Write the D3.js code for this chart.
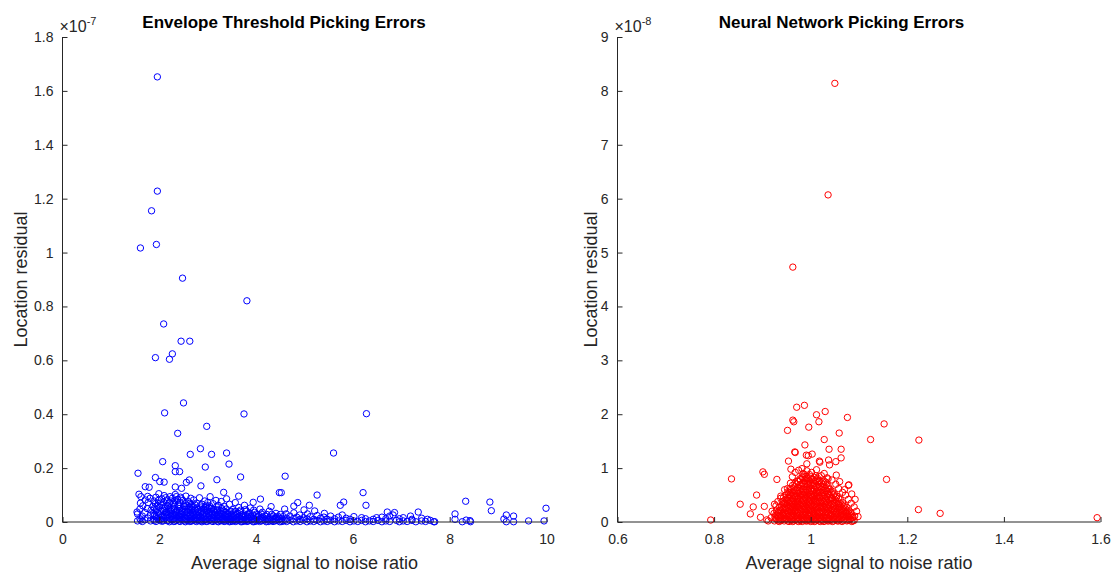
<!DOCTYPE html>
<html>
<head>
<meta charset="utf-8">
<script src="https://cdn.jsdelivr.net/npm/d3@7"></script>
<style>
html,body{margin:0;padding:0;background:#fff;}
svg{display:block;font-family:"Liberation Sans",Arial,Helvetica,sans-serif;}
</style>
</head>
<body>
<svg id="chart" width="1117" height="572"></svg>
<script>
// ---------------- DATA ----------------
const titles = ["Envelope Threshold Picking Errors", "Neural Network Picking Errors"];
const xLabel = "Average signal to noise ratio";
const yLabel = "Location residual";
const exponents = ["-7", "-8"];
const envXTicks = [0, 2, 4, 6, 8, 10];
const envYTicks = [0, 0.2, 0.4, 0.6, 0.8, 1, 1.2, 1.4, 1.6, 1.8];
const nnXTicks = [0.6, 0.8, 1, 1.2, 1.4, 1.6];
const nnYTicks = [0, 1, 2, 3, 4, 5, 6, 7, 8, 9];
const envXDomain = [0, 10];
const envYDomain = [0, 1.8];
const nnXDomain = [0.6, 1.6];
const nnYDomain = [0, 9];

// Envelope threshold: [SNR, residual x1e-7]
const envOutliers = [
[1.96,1.652],[1.96,1.228],[1.84,1.155],[1.94,1.03],[1.61,1.017],[2.48,0.905],[3.81,0.821],[2.09,0.735],
[2.45,0.671],[2.63,0.671],[1.92,0.61],[2.27,0.624],[2.21,0.604],[2.50,0.442],[3.75,0.401],[2.11,0.405],
[6.28,0.402],[2.98,0.355],[2.38,0.329],[5.60,0.256],[2.07,0.224],[1.56,0.181],[2.64,0.251],[2.85,0.272],
[3.08,0.251],[3.39,0.256],[3.44,0.215],[2.95,0.204],[2.33,0.209],[2.33,0.187],[2.42,0.187],[3.19,0.157],
[3.68,0.167],[4.60,0.170],[4.52,0.109],[5.26,0.100],[6.21,0.109],[5.81,0.074],[6.27,0.062],[5.74,0.062],
[8.33,0.077],[8.83,0.074],[8.86,0.042],[9.99,0.051],[8.11,0.030],[9.17,0.026],[9.32,0.022],[9.63,0.004],
[9.95,0.004],[8.42,0.005],[8.43,0.001],[8.34,0.007],[8.26,0.001],[8.11,0.010],[9.12,0.011],[9.17,0.001],
[9.32,0.001],[7.54,0.010],[7.69,0.001],[7.35,0.037],[7.19,0.022],[6.71,0.037],[6.86,0.035],[6.83,0.026],
[6.49,0.016],[4.09,0.085],[4.31,0.057],[4.59,0.048],[4.86,0.072],[4.78,0.059],[5.10,0.062],[4.99,0.045],
[5.21,0.041],[3.94,0.073],[3.64,0.096],[3.33,0.110],[2.86,0.134],[1.92,0.165],[2.10,0.148],[2.01,0.150],
[1.71,0.131],[1.79,0.129],[1.58,0.103],[1.62,0.094],[1.54,0.037],[1.62,0.007],[2.33,0.130],[2.46,0.125],
[2.62,0.156],[2.56,0.147],[4.48,0.109]
];
const envCluster = [
[1.55,0.004],[1.55,0.030],[1.60,0.012],[1.60,0.048],[1.61,0.070],[1.65,0.002],[1.65,0.022],[1.66,0.060],
[1.70,0.008],[1.70,0.035],[1.71,0.082],[1.76,0.015],[1.75,0.050],[1.77,0.072],[1.76,0.095],
[1.82,0.004],[1.82,0.026],[1.83,0.044],[1.81,0.088],[1.88,0.010],[1.88,0.032],[1.87,0.058],[1.89,0.078],
[1.93,0.002],[1.93,0.020],[1.94,0.046],[1.92,0.068],[1.93,0.092],[1.99,0.008],[1.99,0.030],[2.00,0.054],
[1.98,0.080],[1.99,0.105],[2.05,0.003],[2.05,0.018],[2.04,0.040],[2.06,0.062],[2.05,0.086],
[2.10,0.012],[2.10,0.028],[2.11,0.050],[2.09,0.074],[2.10,0.098],[2.16,0.005],[2.16,0.022],[2.15,0.038],
[2.17,0.060],[2.16,0.082],[2.21,0.001],[2.21,0.015],[2.22,0.034],[2.20,0.052],[2.21,0.070],[2.22,0.094],
[2.27,0.008],[2.27,0.026],[2.26,0.046],[2.28,0.066],[2.27,0.088],[2.32,0.003],[2.32,0.018],[2.33,0.036],
[2.31,0.058],[2.32,0.078],[2.33,0.102],[2.38,0.010],[2.38,0.024],[2.37,0.044],[2.39,0.064],[2.38,0.084],
[2.43,0.002],[2.43,0.016],[2.44,0.032],[2.42,0.050],[2.43,0.072],[2.44,0.092],[2.49,0.007],[2.49,0.022],
[2.48,0.040],[2.50,0.060],[2.49,0.080],[2.54,0.001],[2.54,0.013],[2.55,0.030],[2.53,0.048],[2.54,0.068],
[2.55,0.096],[2.60,0.006],[2.60,0.020],[2.59,0.036],[2.61,0.056],[2.60,0.076],[2.66,0.003],[2.66,0.015],
[2.65,0.028],[2.67,0.046],[2.66,0.064],[2.65,0.088],[2.71,0.009],[2.71,0.024],[2.72,0.040],[2.70,0.058],
[2.71,0.082],[2.77,0.002],[2.77,0.017],[2.76,0.034],[2.78,0.052],[2.77,0.070],[2.83,0.006],[2.83,0.020],
[2.82,0.038],[2.84,0.060],[2.83,0.090],[2.88,0.001],[2.88,0.012],[2.89,0.028],[2.87,0.044],[2.88,0.066],
[2.94,0.008],[2.94,0.022],[2.93,0.036],[2.95,0.054],[2.94,0.078],[3.00,0.003],[3.00,0.016],[3.01,0.030],
[2.99,0.048],[3.00,0.072],[3.05,0.010],[3.05,0.024],[3.06,0.040],[3.04,0.060],[3.05,0.094],[3.11,0.002],
[3.11,0.014],[3.10,0.028],[3.12,0.046],[3.11,0.068],[3.17,0.007],[3.17,0.020],[3.16,0.034],[3.18,0.056],
[3.17,0.080],[3.22,0.001],[3.22,0.012],[3.23,0.026],[3.21,0.042],[3.22,0.062],[3.28,0.005],[3.28,0.018],
[3.27,0.032],[3.29,0.050],[3.28,0.076],[3.34,0.002],[3.34,0.010],[3.35,0.024],[3.33,0.040],[3.34,0.058],
[3.39,0.006],[3.39,0.016],[3.40,0.030],[3.38,0.048],[3.39,0.086],[3.45,0.001],[3.45,0.012],[3.44,0.022],
[3.46,0.038],[3.45,0.066],[3.51,0.004],[3.51,0.016],[3.50,0.028],[3.52,0.046],[3.57,0.002],[3.57,0.010],
[3.56,0.024],[3.58,0.040],[3.57,0.072],[3.63,0.006],[3.63,0.018],[3.62,0.032],[3.64,0.054],[3.69,0.001],
[3.69,0.012],[3.70,0.026],[3.68,0.044],[3.75,0.004],[3.75,0.016],[3.74,0.030],[3.76,0.062],[3.81,0.002],
[3.81,0.010],[3.82,0.022],[3.80,0.040],[3.87,0.006],[3.87,0.018],[3.86,0.034],[3.88,0.052],[3.94,0.001],
[3.94,0.012],[3.93,0.026],[3.95,0.044],[4.00,0.004],[4.00,0.016],[4.01,0.030],[4.07,0.002],[4.07,0.010],
[4.06,0.024],[4.08,0.048],[4.14,0.006],[4.14,0.018],[4.13,0.036],[4.21,0.001],[4.21,0.012],[4.22,0.028],
[4.28,0.004],[4.28,0.016],[4.27,0.040],[4.35,0.002],[4.35,0.010],[4.36,0.022],[4.42,0.006],[4.42,0.018],
[4.41,0.032],[4.49,0.001],[4.49,0.012],[4.50,0.028],
[4.56,0.004],[4.56,0.020],[4.63,0.002],[4.63,0.014],[4.62,0.030],[4.70,0.006],[4.70,0.022],[4.77,0.001],
[4.77,0.012],[4.78,0.034],[4.84,0.004],[4.84,0.018],[4.91,0.002],[4.91,0.010],[4.90,0.026],[4.98,0.006],
[4.98,0.016],[5.05,0.001],[5.05,0.012],[5.06,0.030],[5.12,0.004],[5.12,0.020],[5.19,0.002],[5.19,0.010],
[5.26,0.006],[5.26,0.024],[5.33,0.001],[5.33,0.014],[5.40,0.004],[5.40,0.018],[5.41,0.032],[5.47,0.002],
[5.47,0.010],[5.54,0.006],[5.54,0.022],[5.62,0.001],[5.62,0.012],[5.70,0.004],[5.70,0.018],[5.78,0.002],
[5.78,0.026],[5.86,0.006],[5.86,0.014],[5.94,0.001],[5.94,0.010],[6.02,0.004],[6.02,0.020],[6.10,0.002],
[6.18,0.006],[6.18,0.016],[6.26,0.001],[6.26,0.012],[6.34,0.004],[6.42,0.002],[6.42,0.010],[6.52,0.006],
[6.60,0.001],[6.60,0.018],[6.68,0.004],[6.68,0.012],[6.76,0.002],[6.76,0.022],[6.90,0.006],[6.96,0.001],
[6.96,0.012],[7.04,0.004],[7.04,0.016],[7.12,0.002],[7.22,0.006],[7.22,0.010],[7.30,0.001],[7.42,0.004],
[7.42,0.014],[7.50,0.002],[7.60,0.006],[7.67,0.001]
];
const envClusterCore = [
[1.90,0.006],[1.90,0.024],[1.90,0.050],[1.96,0.014],[1.96,0.036],[1.96,0.062],[2.02,0.008],[2.02,0.026],
[2.02,0.070],[2.08,0.004],[2.08,0.022],[2.08,0.044],[2.13,0.016],[2.13,0.034],[2.13,0.058],[2.13,0.090],
[2.19,0.006],[2.19,0.028],[2.19,0.046],[2.24,0.010],[2.24,0.020],[2.24,0.040],[2.24,0.078],[2.30,0.002],
[2.30,0.012],[2.30,0.030],[2.30,0.050],[2.30,0.070],[2.35,0.006],[2.35,0.026],[2.35,0.040],[2.35,0.094],
[2.41,0.004],[2.41,0.020],[2.41,0.036],[2.41,0.058],[2.46,0.010],[2.46,0.026],[2.46,0.044],[2.46,0.086],
[2.52,0.004],[2.52,0.018],[2.52,0.036],[2.52,0.056],[2.57,0.008],[2.57,0.024],[2.57,0.040],[2.57,0.062],
[2.63,0.002],[2.63,0.012],[2.63,0.030],[2.63,0.046],[2.63,0.070],[2.68,0.006],[2.68,0.020],[2.68,0.036],
[2.68,0.054],[2.74,0.004],[2.74,0.012],[2.74,0.028],[2.74,0.044],[2.74,0.064],[2.80,0.008],[2.80,0.026],
[2.80,0.046],[2.86,0.004],[2.86,0.018],[2.86,0.034],[2.86,0.052],[2.91,0.006],[2.91,0.016],[2.91,0.030],
[2.91,0.048],[2.97,0.002],[2.97,0.010],[2.97,0.026],[2.97,0.042],[2.97,0.062],[3.03,0.006],[3.03,0.020],
[3.03,0.036],[3.03,0.054],[3.08,0.004],[3.08,0.016],[3.08,0.032],[3.08,0.050],[3.14,0.008],[3.14,0.022],
[3.14,0.038],[3.20,0.003],[3.20,0.014],[3.20,0.028],[3.20,0.046],[3.25,0.006],[3.25,0.020],[3.25,0.034],
[3.31,0.008],[3.31,0.014],[3.31,0.028],[3.31,0.044],[3.37,0.004],[3.37,0.020],[3.37,0.036],[3.42,0.007],
[3.42,0.016],[3.42,0.030],[3.48,0.002],[3.48,0.010],[3.48,0.022],[3.48,0.040],[3.54,0.006],[3.54,0.020],
[3.54,0.034],[3.60,0.004],[3.60,0.014],[3.60,0.028],[3.66,0.008],[3.66,0.022],[3.66,0.038],[3.72,0.002],
[3.72,0.010],[3.72,0.020],[3.78,0.006],[3.78,0.024],[3.78,0.046],[3.84,0.004],[3.84,0.014],[3.84,0.028],
[3.90,0.008],[3.90,0.020],[3.97,0.002],[3.97,0.010],[3.97,0.036],[4.04,0.006],[4.04,0.020],[4.11,0.004],
[4.11,0.014],[4.11,0.030],[4.18,0.008],[4.18,0.022],[4.25,0.002],[4.25,0.010],[4.32,0.006],[4.32,0.028],
[4.39,0.004],[4.39,0.014],[4.46,0.008],[4.46,0.020],[4.53,0.002],[4.53,0.012],[4.60,0.006]
];

// Neural network: [SNR, residual x1e-8]
const nnOutliers = [
[1.050,8.14],[1.036,6.07],[0.963,4.73],[0.987,2.165],[0.971,2.13],[1.030,2.05],[1.012,1.99],[1.076,1.94],
[0.963,1.89],[0.965,1.86],[1.017,1.86],[1.152,1.82],[0.996,1.76],[0.952,1.70],[1.059,1.65],[1.028,1.53],
[1.124,1.53],[1.224,1.52],[0.988,1.43],[1.038,1.35],[1.063,1.35],[0.967,1.30],[0.968,1.29],[1.003,1.26],
[0.991,1.24],[0.995,1.23],[1.063,1.19],[0.954,1.13],[1.018,1.13],[1.019,1.11],[1.037,1.15],[1.052,1.12],
[1.039,1.06],[0.992,1.08],[0.982,0.99],[0.959,0.98],[0.836,0.80],[0.901,0.93],[0.904,0.885],[0.930,0.79],
[1.157,0.79],[1.053,0.87],[1.034,0.82],[1.079,0.69],[0.888,0.50],[0.854,0.33],[0.881,0.28],[0.875,0.15],
[0.904,0.29],[0.896,0.087],[0.793,0.037],[1.223,0.23],[1.268,0.16],[1.593,0.08],[0.909,0.04],[0.925,0.33],
[0.938,0.44],
[0.952,0.62],[0.958,0.72],[0.962,0.84],[0.968,0.92],[0.975,0.96],[0.984,0.90],[0.992,0.95],[1.002,0.92],
[1.012,0.97],[1.022,0.86],[1.028,0.90],[1.036,0.80],[1.044,0.78],[1.052,0.70],[1.058,0.62],[1.066,0.55],
[1.072,0.50],[1.078,0.42],[1.084,0.35],[1.090,0.28],[1.095,0.20],[1.098,0.10],[1.078,0.68],[1.085,0.52],
[1.092,0.42],[0.938,0.48],[0.932,0.38],[0.928,0.30],[0.920,0.20],[0.918,0.08],[0.912,0.02],[0.946,0.60],
[1.060,0.75],[1.070,0.60]
];
const nnCluster = [
[0.925,0.02],[0.926,0.09],[0.924,0.16],[0.930,0.05],[0.931,0.13],[0.929,0.22],
[0.935,0.01],[0.936,0.08],[0.934,0.17],[0.935,0.27],
[0.940,0.04],[0.941,0.12],[0.939,0.21],[0.940,0.30],[0.941,0.38],
[0.945,0.02],[0.946,0.09],[0.944,0.18],[0.945,0.26],[0.946,0.35],[0.944,0.46],
[0.950,0.05],[0.951,0.14],[0.949,0.22],[0.950,0.31],[0.951,0.40],[0.949,0.50],
[0.955,0.01],[0.956,0.08],[0.954,0.17],[0.955,0.26],[0.956,0.35],[0.954,0.44],[0.955,0.55],
[0.960,0.04],[0.961,0.12],[0.959,0.20],[0.960,0.29],[0.961,0.38],[0.959,0.48],[0.960,0.60],
[0.965,0.02],[0.966,0.09],[0.964,0.16],[0.965,0.25],[0.966,0.33],[0.964,0.42],[0.965,0.52],[0.966,0.65],
[0.970,0.05],[0.971,0.13],[0.969,0.21],[0.970,0.30],[0.971,0.39],[0.969,0.47],[0.970,0.57],[0.971,0.70],
[0.975,0.01],[0.976,0.08],[0.974,0.17],[0.975,0.26],[0.976,0.34],[0.974,0.44],[0.975,0.53],[0.976,0.63],[0.974,0.75],
[0.980,0.03],[0.981,0.11],[0.979,0.19],[0.980,0.28],[0.981,0.37],[0.979,0.46],[0.980,0.56],[0.981,0.66],[0.979,0.78],
[0.985,0.06],[0.986,0.14],[0.984,0.23],[0.985,0.32],[0.986,0.41],[0.984,0.50],[0.985,0.60],[0.986,0.70],[0.984,0.82],
[0.990,0.02],[0.991,0.09],[0.989,0.18],[0.990,0.27],[0.991,0.36],[0.989,0.45],[0.990,0.55],[0.991,0.65],[0.989,0.76],[0.990,0.85],
[0.995,0.05],[0.996,0.12],[0.994,0.21],[0.995,0.30],[0.996,0.39],[0.994,0.48],[0.995,0.58],[0.996,0.68],[0.994,0.80],
[1.000,0.01],[1.001,0.08],[0.999,0.16],[1.000,0.25],[1.001,0.34],[0.999,0.43],[1.000,0.52],[1.001,0.62],[0.999,0.72],[1.000,0.84],
[1.005,0.04],[1.006,0.11],[1.004,0.20],[1.005,0.29],[1.006,0.38],[1.004,0.47],[1.005,0.57],[1.006,0.67],[1.004,0.79],
[1.010,0.02],[1.011,0.09],[1.009,0.17],[1.010,0.26],[1.011,0.35],[1.009,0.44],[1.010,0.54],[1.011,0.64],[1.009,0.76],[1.010,0.86],
[1.015,0.05],[1.016,0.13],[1.014,0.22],[1.015,0.31],[1.016,0.40],[1.014,0.49],[1.015,0.59],[1.016,0.70],[1.014,0.81],
[1.020,0.01],[1.021,0.08],[1.019,0.18],[1.020,0.27],[1.021,0.36],[1.019,0.45],[1.020,0.55],[1.021,0.66],[1.019,0.77],
[1.025,0.03],[1.026,0.11],[1.024,0.20],[1.025,0.29],[1.026,0.38],[1.024,0.48],[1.025,0.58],[1.026,0.70],
[1.030,0.06],[1.031,0.14],[1.029,0.23],[1.030,0.32],[1.031,0.41],[1.029,0.51],[1.030,0.62],[1.031,0.74],
[1.035,0.02],[1.036,0.09],[1.034,0.18],[1.035,0.27],[1.036,0.36],[1.034,0.46],[1.035,0.56],[1.036,0.67],
[1.040,0.04],[1.041,0.12],[1.039,0.21],[1.040,0.30],[1.041,0.40],[1.039,0.50],[1.040,0.61],
[1.045,0.01],[1.046,0.08],[1.044,0.17],[1.045,0.26],[1.046,0.35],[1.044,0.45],[1.045,0.57],
[1.050,0.05],[1.051,0.13],[1.049,0.22],[1.050,0.31],[1.051,0.41],[1.049,0.52],
[1.055,0.02],[1.056,0.10],[1.054,0.19],[1.055,0.28],[1.056,0.38],[1.054,0.48],
[1.060,0.04],[1.061,0.12],[1.059,0.21],[1.060,0.30],[1.061,0.42],
[1.065,0.01],[1.066,0.09],[1.064,0.17],[1.065,0.26],[1.066,0.36],
[1.070,0.05],[1.071,0.13],[1.069,0.22],[1.070,0.31],
[1.075,0.02],[1.076,0.10],[1.074,0.18],[1.075,0.27],
[1.080,0.04],[1.081,0.12],[1.079,0.21],
[1.085,0.01],[1.086,0.08],[1.084,0.16],
[1.090,0.03],[1.091,0.11]
];
const nnClusterCore = [
[0.9275,0.06],[0.9275,0.13],[0.9325,0.02],[0.9325,0.10],[0.9325,0.18],[0.9375,0.03],[0.9375,0.12],[0.9375,0.22],
[0.9425,0.06],[0.9425,0.16],[0.9425,0.25],[0.9425,0.34],
[0.9475,0.06],[0.9475,0.15],[0.9475,0.24],[0.9475,0.33],[0.9475,0.42],
[0.9525,0.02],[0.9525,0.10],[0.9525,0.19],[0.9525,0.27],[0.9525,0.36],[0.9525,0.45],[0.9525,0.56],
[0.9575,0.05],[0.9575,0.13],[0.9575,0.22],[0.9575,0.31],[0.9575,0.40],[0.9575,0.50],[0.9575,0.62],
[0.9625,0.01],[0.9625,0.08],[0.9625,0.17],[0.9625,0.26],[0.9625,0.34],[0.9625,0.44],[0.9625,0.55],[0.9625,0.68],
[0.9675,0.04],[0.9675,0.12],[0.9675,0.20],[0.9675,0.29],[0.9675,0.38],[0.9675,0.48],[0.9675,0.59],[0.9675,0.72],
[0.9725,0.02],[0.9725,0.09],[0.9725,0.18],[0.9725,0.27],[0.9725,0.35],[0.9725,0.43],[0.9725,0.53],[0.9725,0.64],[0.9725,0.76],
[0.9775,0.05],[0.9775,0.13],[0.9775,0.22],[0.9775,0.30],[0.9775,0.39],[0.9775,0.49],[0.9775,0.58],[0.9775,0.69],[0.9775,0.80],
[0.9825,0.01],[0.9825,0.07],[0.9825,0.15],[0.9825,0.24],[0.9825,0.33],[0.9825,0.42],[0.9825,0.51],[0.9825,0.61],[0.9825,0.72],[0.9825,0.84],
[0.9875,0.04],[0.9875,0.11],[0.9875,0.20],[0.9875,0.29],[0.9875,0.37],[0.9875,0.46],[0.9875,0.55],[0.9875,0.66],[0.9875,0.78],[0.9875,0.88],
[0.9925,0.02],[0.9925,0.07],[0.9925,0.14],[0.9925,0.23],[0.9925,0.32],[0.9925,0.41],[0.9925,0.50],[0.9925,0.60],[0.9925,0.71],[0.9925,0.82],
[0.9975,0.03],[0.9975,0.10],[0.9975,0.18],[0.9975,0.28],[0.9975,0.37],[0.9975,0.46],[0.9975,0.55],[0.9975,0.65],[0.9975,0.76],[0.9975,0.88],
[1.0025,0.05],[1.0025,0.13],[1.0025,0.22],[1.0025,0.30],[1.0025,0.39],[1.0025,0.48],[1.0025,0.58],[1.0025,0.68],[1.0025,0.80],
[1.0075,0.01],[1.0075,0.07],[1.0075,0.15],[1.0075,0.24],[1.0075,0.33],[1.0075,0.42],[1.0075,0.51],[1.0075,0.61],[1.0075,0.72],[1.0075,0.83],
[1.0125,0.04],[1.0125,0.11],[1.0125,0.20],[1.0125,0.29],[1.0125,0.38],[1.0125,0.47],[1.0125,0.57],[1.0125,0.67],[1.0125,0.78],
[1.0175,0.02],[1.0175,0.09],[1.0175,0.17],[1.0175,0.26],[1.0175,0.35],[1.0175,0.44],[1.0175,0.54],[1.0175,0.64],[1.0175,0.75],[1.0175,0.84],
[1.0225,0.05],[1.0225,0.13],[1.0225,0.22],[1.0225,0.31],[1.0225,0.40],[1.0225,0.50],[1.0225,0.61],[1.0225,0.72],
[1.0275,0.01],[1.0275,0.08],[1.0275,0.17],[1.0275,0.26],[1.0275,0.35],[1.0275,0.44],[1.0275,0.54],[1.0275,0.65],[1.0275,0.76],
[1.0325,0.04],[1.0325,0.11],[1.0325,0.20],[1.0325,0.29],[1.0325,0.38],[1.0325,0.47],[1.0325,0.58],[1.0325,0.69],
[1.0375,0.02],[1.0375,0.07],[1.0375,0.15],[1.0375,0.24],[1.0375,0.33],[1.0375,0.42],[1.0375,0.52],[1.0375,0.62],
[1.0425,0.05],[1.0425,0.14],[1.0425,0.23],[1.0425,0.33],[1.0425,0.44],[1.0425,0.55],
[1.0475,0.02],[1.0475,0.10],[1.0475,0.19],[1.0475,0.29],[1.0475,0.39],[1.0475,0.50],
[1.0525,0.06],[1.0525,0.15],[1.0525,0.25],[1.0525,0.35],[1.0525,0.45],
[1.0575,0.02],[1.0575,0.08],[1.0575,0.17],[1.0575,0.26],[1.0575,0.34],[1.0575,0.44],
[1.0625,0.06],[1.0625,0.15],[1.0625,0.24],[1.0625,0.34],
[1.0675,0.03],[1.0675,0.11],[1.0675,0.20],[1.0675,0.29],
[1.0725,0.07],[1.0725,0.16],[1.0725,0.24],
[1.0775,0.03],[1.0775,0.11],[1.0775,0.19],
[1.0825,0.06],[1.0825,0.14],[1.0875,0.02],[1.0875,0.09]
];

// ---------------- DRAWING ----------------
const svg = d3.select("#chart");
const axisColor = "#262626";
const fontStack = '"Liberation Sans",Arial,Helvetica,sans-serif';

function panel(cfg) {
  const x = d3.scaleLinear().domain(cfg.xDomain).range([cfg.left, cfg.right]);
  const y = d3.scaleLinear().domain(cfg.yDomain).range([cfg.bottom, cfg.top]);
  const g = svg.append("g");

  g.append("g").selectAll("circle")
    .data(cfg.points)
    .join("circle")
    .attr("cx", d => x(d[0]))
    .attr("cy", d => y(d[1]))
    .attr("r", 3.2)
    .attr("fill", "none")
    .attr("stroke", cfg.color)
    .attr("stroke-width", 1);

  const xa = g.append("g").attr("transform", `translate(0,${cfg.bottom})`)
    .call(d3.axisBottom(x).tickValues(cfg.xTicks).tickSize(-5).tickPadding(12)
      .tickFormat(d3.format("~g")));
  xa.select(".domain").attr("stroke", axisColor).attr("d", `M${cfg.left},0H${cfg.right}`);
  xa.selectAll(".tick line").attr("stroke", axisColor);
  xa.selectAll(".tick text").attr("fill", axisColor).style("font-size", "14px")
    .style("font-family", fontStack);

  const ya = g.append("g").attr("transform", `translate(${cfg.axisX},0)`)
    .call(d3.axisLeft(y).tickValues(cfg.yTicks).tickSize(-5).tickPadding(9)
      .tickFormat(d3.format("~g")));
  ya.select(".domain").attr("stroke", axisColor).attr("d", `M0,${cfg.top}V${cfg.bottom}`);
  ya.selectAll(".tick line").attr("stroke", axisColor);
  ya.selectAll(".tick text").attr("fill", axisColor).style("font-size", "14px")
    .style("font-family", fontStack);

  const ex = g.append("text")
    .attr("x", cfg.left - 3).attr("y", cfg.top - 5)
    .attr("fill", axisColor).style("font-size", "16px").style("font-family", fontStack);
  ex.append("tspan").text("\u00d710");
  ex.append("tspan").attr("dy", -7).style("font-size", "11px").text(cfg.exponent);

  g.append("text")
    .attr("x", cfg.titleX).attr("y", 28)
    .attr("text-anchor", "middle")
    .attr("fill", "#000").style("font-size", "17px").style("font-weight", "bold")
    .style("font-family", fontStack)
    .text(cfg.title);

  g.append("text")
    .attr("x", (cfg.left + cfg.right) / 2).attr("y", 569)
    .attr("text-anchor", "middle")
    .attr("fill", axisColor).style("font-size", "18px").style("font-family", fontStack)
    .text(xLabel);

  g.append("text")
    .attr("transform", `translate(${cfg.yLabelX},${(cfg.top + cfg.bottom) / 2}) rotate(-90)`)
    .attr("text-anchor", "middle")
    .attr("fill", axisColor).style("font-size", "18px").style("font-family", fontStack)
    .text(yLabel);
}

panel({
  left: 62.5, right: 546.5, top: 37, bottom: 522, axisX: 62.5,
  xDomain: envXDomain, yDomain: envYDomain, xTicks: envXTicks, yTicks: envYTicks,
  points: envCluster.concat(envClusterCore, envOutliers), color: "#0000ff",
  exponent: exponents[0], title: titles[0], yLabelX: 27, titleX: 284
});
panel({
  left: 617.5, right: 1100.5, top: 37, bottom: 522, axisX: 617.5,
  xDomain: nnXDomain, yDomain: nnYDomain, xTicks: nnXTicks, yTicks: nnYTicks,
  points: nnCluster.concat(nnClusterCore, nnOutliers), color: "#ff0000",
  exponent: exponents[1], title: titles[1], yLabelX: 597, titleX: 841.5
});
</script>
</body>
</html>
